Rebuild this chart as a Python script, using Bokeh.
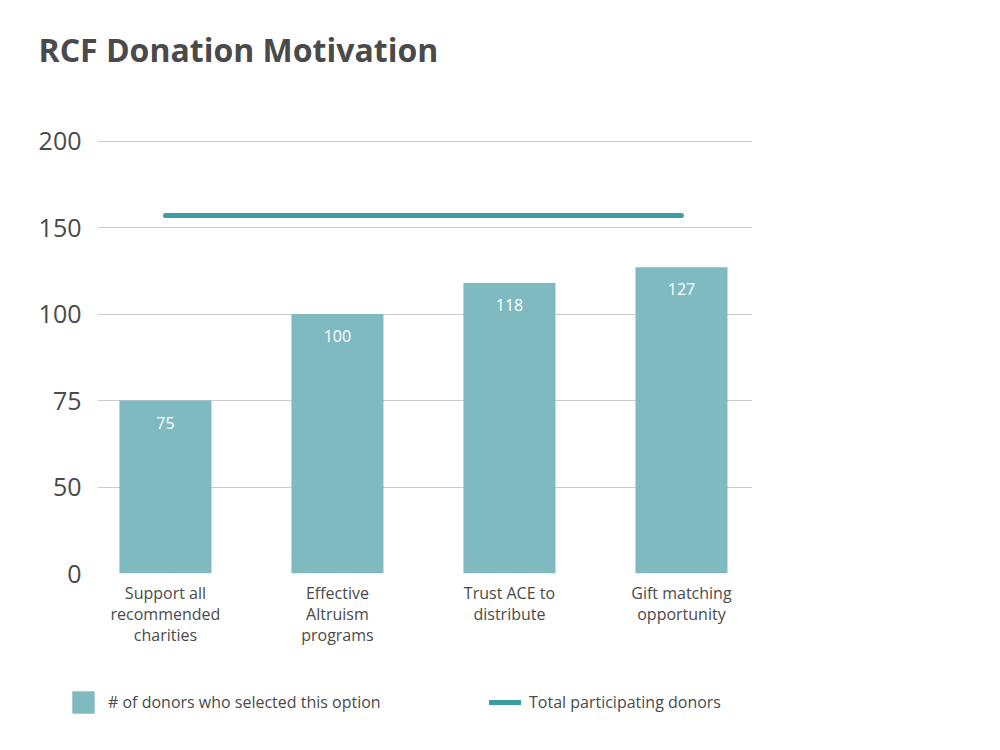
import numpy as np
from bokeh.plotting import figure
from bokeh.layouts import column
from bokeh.models import Range1d, FixedTicker, Legend, LegendItem, ColumnDataSource
from bokeh.core.properties import value
from bokeh.embed import file_html
from bokeh.resources import INLINE

categories = ["Support all\nrecommended\ncharities", "Effective\nAltruism\nprograms",
              "Trust ACE to\ndistribute", "Gift matching\nopportunity"]
donors = [75, 100, 118, 127]
total_donors = 157
tick_values = [0, 50, 75, 100, 150, 200]
series_names = ["# of donors who selected this option", "Total participating donors"]

FONT = "Open Sans"
TEXT = "#4a4a4a"
BAR = "#7fbac1"
LINE = "#3b9ca3"
W = 984
LEFT = 97

tick_pos = list(range(len(tick_values)))
def ymap(v):
    return np.interp(v, tick_values, tick_pos)

def blank(height, top=0, bottom=0, left=LEFT, right=W - 752, xr=(0, 1), yr=(0, 1)):
    f = figure(width=W, height=height, x_range=Range1d(*xr), y_range=Range1d(*yr),
               x_axis_location=None, y_axis_location=None, output_backend="svg",
               toolbar_location=None, outline_line_color=None,
               min_border_left=left, min_border_right=right,
               min_border_top=top, min_border_bottom=bottom)
    f.grid.visible = False
    return f

# ---- title strip
head = blank(90, top=70)
head.title.text = "RCF Donation Motivation"
head.title.text_font = FONT
head.title.text_font_size = "32px"
head.title.text_color = TEXT
head.title.text_font_style = "bold"
head.title.align = "left"
head.title.offset = -59
head.title.standoff = 0

# ---- main chart
xs = list(range(len(categories)))
src = ColumnDataSource(dict(x=xs, top=ymap(donors), label=[str(d) for d in donors]))
line_src = ColumnDataSource(dict(x=[xs[0], xs[-1]], y=[ymap(total_donors)] * 2))

p = figure(width=W, height=563, min_border_left=LEFT, min_border_right=W - 752,
           min_border_top=48, min_border_bottom=80,
           x_range=Range1d(-0.395, 3.413), y_range=Range1d(0, 5.03),
           output_backend="svg", toolbar_location=None, outline_line_color=None)

p.vbar(x="x", top="top", bottom=0, width=0.535, source=src, fill_color=BAR, line_color=None)
p.text(x="x", y="top", text="label", source=src, text_color="white", text_align="center",
       text_baseline="middle", y_offset=22, text_font=value(FONT), text_font_size="16px")
p.line(x="x", y="y", source=line_src, line_color=LINE, line_width=5, line_cap="round")

p.xgrid.grid_line_color = None
p.ygrid.grid_line_color = "#cccccc"
p.ygrid.grid_line_width = 1.2
p.yaxis.ticker = FixedTicker(ticks=tick_pos)
p.yaxis.major_label_overrides = {i: str(v) for i, v in zip(tick_pos, tick_values)}
p.xaxis.ticker = FixedTicker(ticks=xs)
p.xaxis.major_label_overrides = {i: c for i, c in zip(xs, categories)}
for ax in (p.xaxis, p.yaxis):
    ax.axis_line_color = None
    ax.major_tick_line_color = None
    ax.minor_tick_line_color = None
    ax.major_label_text_font = FONT
    ax.major_label_text_color = TEXT
p.yaxis.major_label_text_font_size = "25px"
p.yaxis.major_label_standoff = 10
p.xaxis.major_label_text_font_size = "16px"
p.xaxis.major_label_standoff = 2
p.xaxis.major_label_text_line_height = 0.97

# ---- legend strip: proxies of the chart marks (same data, kept outside this strip's view)
foot = blank(80, left=0, right=0, xr=(100, 101), yr=(100, 101))
sw_bar = foot.vbar(x="x", top="top", bottom=0, width=0.535, source=src,
                   fill_color=BAR, line_color=None)
sw_line = foot.line(x="x", y="y", source=line_src, line_color=LINE, line_width=5,
                    line_cap="round")
for name, rend, loc, gw, so in ((series_names[0], sw_bar, (69, 17), 28, 11),
                                (series_names[1], sw_line, (489, 17), 32, 8)):
    lg = Legend(items=[LegendItem(label=name, renderers=[rend])], location=loc,
                glyph_width=gw, glyph_height=28, label_standoff=so)
    lg.padding = 0
    lg.margin = 0
    lg.border_line_color = None
    lg.background_fill_alpha = 0
    lg.label_text_font = FONT
    lg.label_text_font_size = "16px"
    lg.label_text_color = TEXT
    foot.add_layout(lg, "center")

layout = column(column(head, p, spacing=0), foot, spacing=0)
open("out.html", "w").write(file_html(layout, INLINE))
